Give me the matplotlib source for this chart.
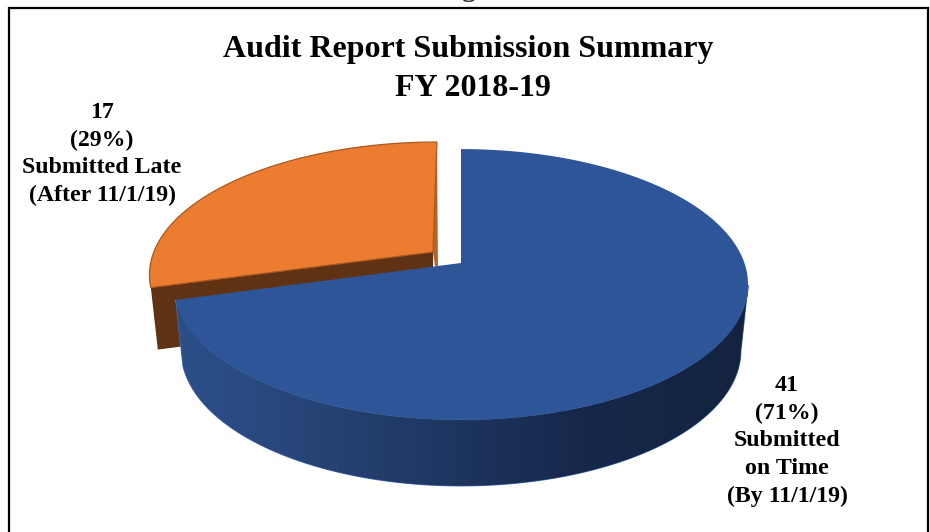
import numpy as np
import matplotlib
matplotlib.use("Agg")
import matplotlib.pyplot as plt
from matplotlib.patches import Polygon, Rectangle
from matplotlib.colors import LinearSegmentedColormap

# ---- data ----
categories = ["Submitted\non Time\n(By 11/1/19)", "Submitted Late\n(After 11/1/19)"]
counts = [41, 17]
percents = [71, 29]
title_lines = ["Audit Report Submission Summary", "FY 2018-19"]
clipped_heading = "g"

# ---- colours ----
BLUE = "#2e5597"
BLUE_EDGE = "#4f78bd"
ORANGE = "#eb7c30"
ORANGE_EDGE = "#a9591f"
ORANGE_CUT = "#5f3214"
ORANGE_SIDE = "#b5642a"
wall_cmap = LinearSegmentedColormap.from_list(
    "wall", [(0, "#2c4f8a"), (0.2, "#28467a"), (0.45, "#1f3763"), (0.72, "#16284a"), (1, "#13233f")])

# ---- layout ----
plt.rcParams["font.family"] = ["Liberation Serif", "DejaVu Serif"]
fig = plt.figure(figsize=(9.3, 5.32), dpi=100)
ax = fig.add_axes([0, 0, 1, 1])
ax.set_xlim(0, 930)
ax.set_ylim(532, 0)
ax.axis("off")

# perspective model of the pie's top face
C = 0.1587
A = 132.0
D = 283.4


def rim(t_deg, ax0, ay0, sx=1.0, sy=1.0, shear=0.0):
    """Rim point for clockwise angle t (deg from 12 o'clock), seen in perspective."""
    t = np.radians(np.atleast_1d(t_deg))
    u, v = np.sin(t), np.cos(t)
    w = 1 + C * v
    dy = -A * v / w * sy
    dx = D * u / w * sx - shear * dy
    return np.column_stack([ax0 + dx, ay0 + dy])


total = sum(counts)
split = 360.0 * counts[0] / total

BX, BY = 461.0, 263.0
OX, OY = 433.0, 252.0
DEPTH = 64.0
LOWER_SX = 0.975

# ---- frame ----
ax.add_patch(Rectangle((9, 7.5), 919, 560, fc="white", ec="black", lw=1.6, zorder=0))

# ---- orange (late) slice ----
ts_o = np.linspace(split, 360, 200)
o_kw = dict(sx=0.985, sy=0.965, shear=0.036)
o_rim = rim(ts_o, OX, OY, **o_kw)
end_pt, top_pt = o_rim[0], o_rim[-1]

cut = np.array([[OX, OY], end_pt, end_pt + [7, DEPTH - 2], [OX, OY + DEPTH - 2]])
ax.add_patch(Polygon(cut, closed=True, fc=ORANGE_CUT, ec="none", zorder=1))
side = np.array([top_pt, [OX, OY], [OX + 2, OY + 14], top_pt + [1, 124]])
ax.add_patch(Polygon(side, closed=True, fc=ORANGE_SIDE, ec="none", zorder=1))
ax.add_patch(Polygon(np.vstack([[OX, OY], o_rim]), closed=True, fc=ORANGE,
                     ec=ORANGE_EDGE, lw=0.9, zorder=2))

# ---- blue (on time) slice ----
ts_b = np.linspace(0, split, 400)
b_rim = rim(ts_b, BX, BY)

# outer wall: from the widest point of the rim round to the slice end
ts_w = ts_b[ts_b >= 99]
upper = rim(ts_w, BX, BY)
lower = rim(ts_w, BX, BY, sx=LOWER_SX) + [0, DEPTH + 2]
wall_poly = Polygon(np.vstack([upper, lower[::-1]]), closed=True, fc="none",
                    ec=BLUE_EDGE, lw=0.8, zorder=3)
ax.add_patch(wall_poly)
img = ax.imshow(np.linspace(0, 1, 256)[None, :], extent=(176, 748, 490, 250),
                cmap=wall_cmap, aspect="auto", zorder=3.1, interpolation="bilinear")
img.set_clip_path(wall_poly)
ax.set_xlim(0, 930)
ax.set_ylim(532, 0)

ax.add_patch(Polygon(np.vstack([[BX, BY], b_rim]), closed=True, fc=BLUE, ec="none", zorder=4))

# ---- text ----
ax.text(468.5, 57.5, title_lines[0], ha="center", va="baseline", fontsize=23,
        fontweight="bold", zorder=6)
ax.text(473, 96, title_lines[1], ha="center", va="baseline", fontsize=23,
        fontweight="bold", zorder=6)
ax.text(468, -4, clipped_heading, ha="center", va="baseline", fontsize=20,
        fontweight="bold", color="#333333", zorder=6)

label_kw = dict(ha="center", va="center", fontsize=17.2, fontweight="bold", linespacing=1.415, zorder=6)
ax.text(787, 441, f"{counts[0]}\n({percents[0]}%)\n{categories[0]}", **label_kw)
ax.text(102, 154, f"{counts[1]}\n({percents[1]}%)\n{categories[1]}", **label_kw)

fig.savefig("out.png", dpi=100)
